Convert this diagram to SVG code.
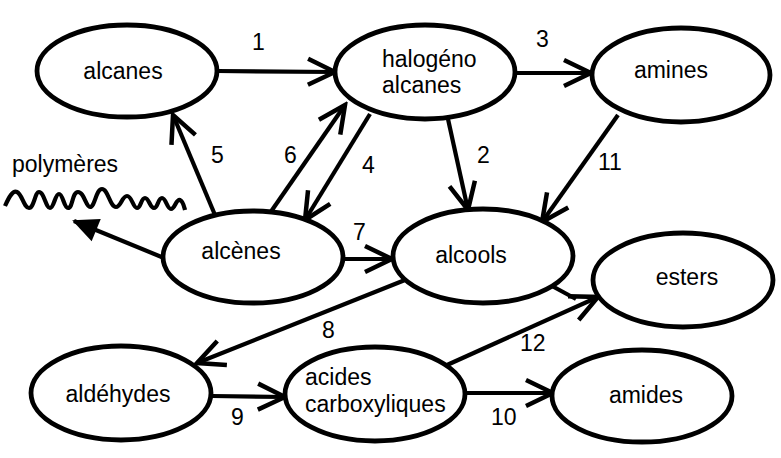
<svg xmlns="http://www.w3.org/2000/svg" width="781" height="458" viewBox="0 0 781 458">
<style>
.n{fill:#fff;stroke:#000;stroke-width:4.8}
.t{font-family:"Liberation Sans",Arial,sans-serif;font-size:23px;fill:#000}
.c{text-anchor:middle}
.e{stroke:#000;stroke-width:4.2;fill:none}
.a{marker-end:url(#v)}
</style>
<defs>
<marker id="v" viewBox="-32 -16 36 32" markerWidth="36" markerHeight="32" markerUnits="userSpaceOnUse" refX="0" refY="0" orient="auto">
<path d="M-27,-13 L0,0 L-27,13" fill="none" stroke="#000" stroke-width="4.5"/>
</marker>
<marker id="f" viewBox="-30 -15 34 30" markerWidth="34" markerHeight="30" markerUnits="userSpaceOnUse" refX="0" refY="0" orient="auto">
<path d="M2,0 L-24,-12 L-24,12 Z" fill="#000"/>
</marker>
</defs>
<rect width="781" height="458" fill="#fff"/>
<g id="connectors">
<line class="e a" x1="217" y1="71" x2="335" y2="72"/>
<line class="e a" x1="515" y1="73" x2="591" y2="73"/>
<line class="e a" x1="448" y1="119" x2="468" y2="210"/>
<line class="e a" x1="618" y1="115" x2="542" y2="222"/>
<line class="e a" x1="370" y1="114" x2="305" y2="220"/>
<line class="e a" x1="270" y1="213" x2="345" y2="105"/>
<line class="e a" x1="215" y1="215" x2="173" y2="115"/>
<line class="e a" x1="343" y1="259" x2="392" y2="259"/>
<line class="e" x1="164" y1="258" x2="74" y2="221" marker-end="url(#f)"/>
<path class="e" d="M5,206 C9,197 13,190 17,192 C22,194 24,208 29,208 C34,208 35,192 39,192 C44,192 46,208 50,208 C54,208 55,194 59,194 C63,194 64,208 68,208 C73,208 72,192 78,192 C84,192 86,207 90,207 C95,207 96,189 102,189 C108,189 110,207 116,207 C121,207 122,196 127,196 C132,196 133,208 137,208 C141,208 141,198 145,198 C149,198 150,208 154,208 C158,208 158,198 162,198 C166,198 167,209 171,209 C175,209 176,199 180,200 C183,201 184,206 185,210"/>
<line class="e a" x1="405" y1="280" x2="197" y2="363"/>
<line class="e a" x1="212" y1="396" x2="285" y2="397"/>
<line class="e a" x1="464" y1="393" x2="553" y2="393"/>
<line class="e a" x1="447" y1="365" x2="598" y2="297"/>
<line class="e" x1="552" y1="286" x2="576" y2="299"/>
</g>
<g id="alcanes"><ellipse class="n" cx="127" cy="71" rx="90" ry="46"/><text class="t c" x="123" y="79">alcanes</text></g>
<g id="halogenoalcanes"><ellipse class="n" cx="425" cy="72" rx="90" ry="47"/><text class="t" x="382" y="67">halogéno</text><text class="t" x="382" y="93">alcanes</text></g>
<g id="amines"><ellipse class="n" cx="681" cy="75" rx="89" ry="47"/><text class="t c" x="671" y="78">amines</text></g>
<g id="alcenes"><ellipse class="n" cx="253" cy="257" rx="90" ry="46"/><text class="t c" x="241" y="259">alcènes</text></g>
<g id="alcools"><ellipse class="n" cx="483" cy="256" rx="90" ry="47"/><text class="t c" x="471" y="263">alcools</text></g>
<g id="esters"><ellipse class="n" cx="683" cy="280" rx="90" ry="47"/><text class="t c" x="687" y="285">esters</text></g>
<g id="aldehydes"><ellipse class="n" cx="121" cy="393" rx="90" ry="47"/><text class="t c" x="118" y="402">aldéhydes</text></g>
<g id="acides"><ellipse class="n" cx="375" cy="394" rx="90" ry="47"/><text class="t" x="305" y="385">acides</text><text class="t" x="305" y="412">carboxyliques</text></g>
<g id="amides"><ellipse class="n" cx="642" cy="396" rx="90" ry="46"/><text class="t c" x="646" y="403">amides</text></g>
<g id="polymeres"><text class="t" x="12" y="172">polymères</text></g>
<g id="labels">
<text class="t" x="252" y="50">1</text>
<text class="t" x="477" y="163">2</text>
<text class="t" x="536" y="47">3</text>
<text class="t" x="362" y="173">4</text>
<text class="t" x="211" y="163">5</text>
<text class="t" x="284" y="163">6</text>
<text class="t" x="353" y="240">7</text>
<text class="t" x="322" y="338">8</text>
<text class="t" x="231" y="425">9</text>
<text class="t" x="491" y="425">10</text>
<text class="t" x="598" y="170">11</text>
<text class="t" x="520" y="351">12</text>
</g>
</svg>
